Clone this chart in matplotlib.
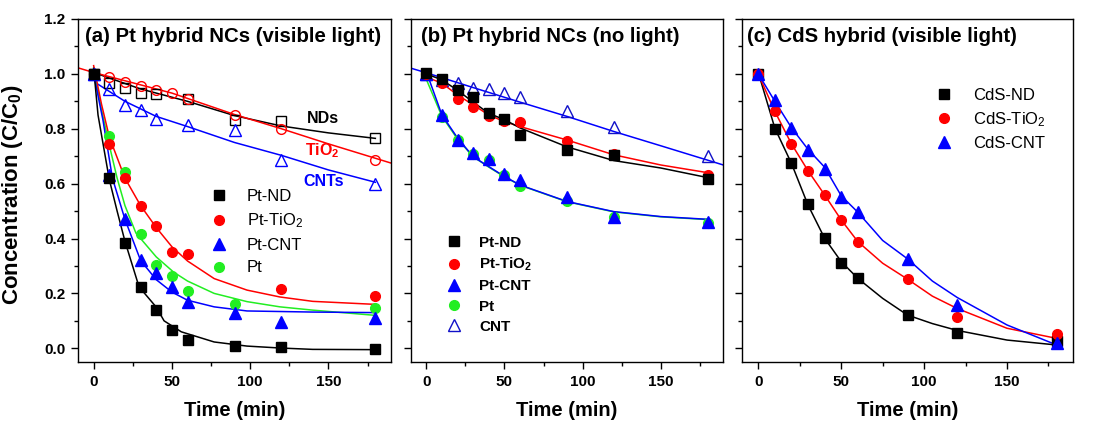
import matplotlib
matplotlib.use('Agg')
import matplotlib.pyplot as plt
from matplotlib.ticker import MultipleLocator, FormatStrFormatter

plt.rcParams['font.family'] = ['Liberation Sans', 'DejaVu Sans']
plt.rcParams['mathtext.fontset'] = 'custom'
plt.rcParams['mathtext.rm'] = 'Liberation Sans'
plt.rcParams['mathtext.bf'] = 'Liberation Sans:bold'
plt.rcParams['mathtext.default'] = 'regular'

# ---------------- data ----------------
t_full = [0, 10, 20, 30, 40, 50, 60, 90, 120, 180]

# Panel (a) measured points
a_ptnd = [1.0, 0.62, 0.385, 0.225, 0.14, 0.065, 0.03, 0.01, 0.005, -0.003]
a_pttio2_t = [0, 10, 20, 30, 40, 50, 60, 120, 180]
a_pttio2 = [1.0, 0.745, 0.62, 0.52, 0.445, 0.35, 0.345, 0.215, 0.19]
a_ptcnt = [1.0, 0.63, 0.47, 0.32, 0.275, 0.225, 0.17, 0.13, 0.095, 0.11]
a_pt_t = [0, 10, 20, 30, 40, 50, 60, 90, 180]
a_pt = [1.0, 0.772, 0.642, 0.417, 0.305, 0.263, 0.21, 0.16, 0.148]
a_nds_t = [0, 10, 20, 30, 40, 60, 90, 120, 180]
a_nds = [1.0, 0.965, 0.948, 0.932, 0.925, 0.908, 0.832, 0.83, 0.765]
a_tio2 = [1.0, 0.99, 0.972, 0.957, 0.942, 0.932, 0.91, 0.85, 0.8, 0.686]
a_cnts_t = [0, 10, 20, 30, 40, 60, 90, 120, 180]
a_cnts = [1.0, 0.945, 0.885, 0.87, 0.835, 0.815, 0.797, 0.685, 0.6]

# Panel (a) fitted curves
fa_ptnd_t = [0, 2.8, 10, 15, 20, 29, 40, 45, 56, 77, 98, 119, 140, 180]
fa_ptnd = [1.02, 0.85, 0.615, 0.5, 0.39, 0.224, 0.15, 0.1, 0.06, 0.023, 0.008, 0.001, -0.004, -0.005]
fa_pttio2_t = [0, 5, 10, 20, 30, 40, 50, 60, 77, 98, 119, 140, 180]
fa_pttio2 = [1.03, 0.89, 0.77, 0.62, 0.52, 0.44, 0.37, 0.318, 0.254, 0.212, 0.187, 0.171, 0.16]
fa_ptcnt_t = [0, 6, 12, 20, 30, 40, 50, 60, 77, 98, 140, 180]
fa_ptcnt = [1.0, 0.83, 0.62, 0.47, 0.32, 0.25, 0.205, 0.175, 0.151, 0.136, 0.132, 0.13]
fa_pt_t = [0, 5, 10, 15, 20, 27, 40, 51, 60, 77, 98, 119, 140, 180]
fa_pt = [1.02, 0.87, 0.74, 0.62, 0.52, 0.42, 0.333, 0.278, 0.245, 0.2, 0.17, 0.151, 0.139, 0.12]
fa_nds_t = [0, 30, 60, 90, 120, 150, 180]
fa_nds = [1.005, 0.945, 0.9, 0.848, 0.81, 0.785, 0.765]
fa_tio2_t = [-10, 0, 50, 90, 120, 150, 190]
fa_tio2 = [1.022, 1.005, 0.93, 0.852, 0.8, 0.745, 0.675]
fa_cnts_t = [2, 20, 40, 60, 90, 120, 150, 180]
fa_cnts = [0.965, 0.9, 0.845, 0.808, 0.75, 0.703, 0.65, 0.605]

# Panel (b) measured points
b_ptnd = [1.005, 0.98, 0.942, 0.914, 0.857, 0.836, 0.778, 0.723, 0.705, 0.616]
b_pttio2 = [1.0, 0.966, 0.908, 0.881, 0.845, 0.83, 0.823, 0.757, 0.708, 0.632]
b_ptcnt = [1.0, 0.85, 0.76, 0.713, 0.689, 0.634, 0.614, 0.553, 0.478, 0.462]
b_pt = [1.0, 0.842, 0.76, 0.708, 0.686, 0.632, 0.592, 0.538, 0.478, 0.458]
b_cnt = [1.0, 0.978, 0.966, 0.948, 0.944, 0.932, 0.917, 0.863, 0.808, 0.701]

# Panel (b) fitted curves
fb_cnt_t = [-10, 0, 30, 60, 90, 120, 150, 190]
fb_cnt = [1.021, 1.004, 0.95, 0.897, 0.845, 0.79, 0.738, 0.668]
fb_ptnd_t = [0, 10, 20, 30, 40, 50, 60, 90, 120, 150, 180]
fb_ptnd = [1.0, 0.978, 0.94, 0.897, 0.856, 0.833, 0.803, 0.734, 0.684, 0.657, 0.622]
fb_pttio2_t = [2, 10, 20, 30, 40, 50, 60, 90, 120, 150, 180]
fb_pttio2 = [0.984, 0.966, 0.923, 0.887, 0.85, 0.826, 0.808, 0.759, 0.705, 0.668, 0.64]
fb_ptcnt_t = [0, 10, 20, 30, 40, 50, 60, 90, 120, 150, 180]
fb_ptcnt = [1.008, 0.85, 0.766, 0.698, 0.662, 0.626, 0.595, 0.535, 0.498, 0.48, 0.47]
fb_pt = [0.98, 0.845, 0.762, 0.698, 0.66, 0.625, 0.594, 0.534, 0.497, 0.479, 0.469]

# Panel (c) measured points
c_nd = [1.0, 0.8, 0.677, 0.525, 0.401, 0.31, 0.255, 0.122, 0.057, 0.025]
c_tio2 = [1.0, 0.863, 0.745, 0.646, 0.559, 0.468, 0.389, 0.252, 0.115, 0.052]
c_cnt = [1.0, 0.905, 0.804, 0.723, 0.652, 0.553, 0.496, 0.326, 0.158, 0.02]

# Panel (c) fitted curves
fc_t = [0, 10, 20, 30, 40, 50, 60, 75, 90, 105, 120, 150, 180]
fc_nd = [1.005, 0.802, 0.674, 0.522, 0.401, 0.316, 0.255, 0.182, 0.121, 0.09, 0.065, 0.03, 0.012]
fc_tio2 = [1.0, 0.863, 0.745, 0.647, 0.559, 0.468, 0.389, 0.31, 0.252, 0.19, 0.145, 0.073, 0.036]
fc_cnt = [1.0, 0.9, 0.804, 0.725, 0.66, 0.556, 0.496, 0.393, 0.326, 0.245, 0.185, 0.085, 0.012]

titles = ['(a) Pt hybrid NCs (visible light)', '(b) Pt hybrid NCs (no light)',
          '(c) CdS hybrid (visible light)']

# ---------------- styling ----------------
BLACK = '#000000'
RED = '#ff0000'
BLUE = '#0000ff'
NAVY = '#1010c8'
GREEN = '#22ee22'
LW = 1.1
MS_SQ = 6.5
MS_CI = 7.0
MS_TR = 8.0

fig = plt.figure(figsize=(10.97, 4.32), dpi=100)
axA = fig.add_axes([78 / 1097, 70 / 432, 313 / 1097, 343 / 432])
axB = fig.add_axes([410.7 / 1097, 70 / 432, 312.6 / 1097, 343 / 432])
axC = fig.add_axes([741.7 / 1097, 70 / 432, 331.6 / 1097, 343 / 432])

for i, ax in enumerate([axA, axB, axC]):
    ax.set_xlim(-10, 190)
    ax.set_ylim(-0.05, 1.2)
    ax.xaxis.set_major_locator(MultipleLocator(50))
    ax.xaxis.set_minor_locator(MultipleLocator(25))
    ax.yaxis.set_major_locator(MultipleLocator(0.2))
    ax.yaxis.set_minor_locator(MultipleLocator(0.1))
    ax.yaxis.set_major_formatter(FormatStrFormatter('%.1f'))
    ax.tick_params(which='major', direction='out', length=5, width=1, labelsize=11, pad=4)
    ax.tick_params(which='minor', direction='out', length=3, width=1)
    ax.tick_params(top=False, right=False)
    for lab in ax.get_xticklabels() + ax.get_yticklabels():
        lab.set_fontweight('bold')
    if i > 0:
        ax.tick_params(labelleft=False)
    for sp in ax.spines.values():
        sp.set_linewidth(1.0)
    ax.set_xlabel('Time (min)', fontsize=14.5, fontweight='bold')
    ax.xaxis.set_label_coords(0.5, -0.114)
    ax.text(0.022 if i == 0 else (0.033 if i == 1 else 0.016), 0.95, titles[i],
            transform=ax.transAxes, fontsize=14.7, fontweight='bold', ha='left', va='center')

axA.set_ylabel('Concentration (C/C$_0$)', fontsize=16, fontweight='bold')
axA.yaxis.set_label_coords(-0.168, 0.488)

# ---------------- panel (a) ----------------
ax = axA
ax.plot(fa_nds_t, fa_nds, color=BLACK, lw=LW, zorder=2)
ax.plot(fa_tio2_t, fa_tio2, color=RED, lw=LW, zorder=2)
ax.plot(fa_cnts_t, fa_cnts, color=BLUE, lw=LW, zorder=2)
ax.plot(fa_pt_t, fa_pt, color=GREEN, lw=LW, zorder=2)
ax.plot(fa_pttio2_t, fa_pttio2, color=RED, lw=LW, zorder=2)
ax.plot(fa_ptcnt_t, fa_ptcnt, color=BLUE, lw=LW, zorder=2)
ax.plot(fa_ptnd_t, fa_ptnd, color=BLACK, lw=LW, zorder=2)

ax.plot(a_nds_t, a_nds, 's', ms=MS_SQ, mfc='none', mec=BLACK, mew=1, zorder=3)
ax.plot(t_full, a_tio2, 'o', ms=MS_CI, mfc='none', mec=RED, mew=1, zorder=3)
ax.plot(a_cnts_t, a_cnts, '^', ms=MS_TR, mfc='none', mec=BLUE, mew=1, zorder=3)
hpt, = ax.plot(a_pt_t, a_pt, 'o', ms=MS_CI, color=GREEN, mec=GREEN, label='Pt', zorder=4)
hcnt, = ax.plot(t_full, a_ptcnt, '^', ms=MS_TR, color=BLUE, label='Pt-CNT', zorder=4)
htio2, = ax.plot(a_pttio2_t, a_pttio2, 'o', ms=MS_CI, color=RED, label='Pt-TiO$_2$', zorder=4)
hnd, = ax.plot(t_full, a_ptnd, 's', ms=MS_SQ, color=BLACK, label='Pt-ND', zorder=5)
ax.legend(handles=[hnd, htio2, hcnt, hpt], loc='upper left', bbox_to_anchor=(0.424, 0.505),
          frameon=False, fontsize=12, handlelength=1.0, handletextpad=1.15,
          labelspacing=0.46, borderpad=0, borderaxespad=0, numpoints=1)

ax.text(136.5, 0.839, 'NDs', color=BLACK, fontsize=11.5, fontweight='bold', ha='left', va='center')
ax.text(134.8, 0.72, 'TiO$_2$', color=RED, fontsize=11.5, fontweight='bold', ha='left', va='center')
ax.text(133.8, 0.607, 'CNTs', color=BLUE, fontsize=11.5, fontweight='bold', ha='left', va='center')

# ---------------- panel (b) ----------------
ax = axB
ax.plot(fb_cnt_t, fb_cnt, color=BLUE, lw=LW, zorder=2)
ax.plot(fb_ptcnt_t, fb_pt, color=GREEN, lw=LW, zorder=2)
ax.plot(fb_ptcnt_t, fb_ptcnt, color=BLUE, lw=LW, zorder=2)
ax.plot(fb_pttio2_t, fb_pttio2, color=RED, lw=LW, zorder=2)
ax.plot(fb_ptnd_t, fb_ptnd, color=BLACK, lw=LW, zorder=2)

hbcnt0, = ax.plot(t_full, b_cnt, '^', ms=MS_TR, mfc='none', mec=NAVY, mew=1, label='CNT', zorder=3)
hbpt, = ax.plot(t_full, b_pt, 'o', ms=MS_CI, color=GREEN, label='Pt', zorder=4)
hbcnt, = ax.plot(t_full, b_ptcnt, '^', ms=MS_TR, color=BLUE, label='Pt-CNT', zorder=4)
hbtio2, = ax.plot(t_full, b_pttio2, 'o', ms=MS_CI, color=RED, label='Pt-TiO$_2$', zorder=4)
hbnd, = ax.plot(t_full, b_ptnd, 's', ms=MS_SQ, color=BLACK, label='Pt-ND', zorder=5)
ax.legend(handles=[hbnd, hbtio2, hbcnt, hbpt, hbcnt0], loc='upper left',
          bbox_to_anchor=(0.114, 0.368), frameon=False,
          prop={'size': 11, 'weight': 'bold'}, handlelength=1.0, handletextpad=1.15,
          labelspacing=0.4, borderpad=0, borderaxespad=0, numpoints=1)

# ---------------- panel (c) ----------------
ax = axC
ax.plot(fc_t, fc_nd, color=BLACK, lw=LW, zorder=2)
ax.plot(fc_t, fc_tio2, color=RED, lw=LW, zorder=2)
ax.plot(fc_t, fc_cnt, color=BLUE, lw=LW, zorder=2)
hcnd, = ax.plot(t_full, c_nd, 's', ms=MS_SQ, color=BLACK, label='CdS-ND', zorder=3)
hctio2, = ax.plot(t_full, c_tio2, 'o', ms=MS_CI, color=RED, label='CdS-TiO$_2$', zorder=4)
hccnt, = ax.plot(t_full, c_cnt, '^', ms=MS_TR, color=BLUE, label='CdS-CNT', zorder=5)
ax.legend(handles=[hcnd, hctio2, hccnt], loc='upper left', bbox_to_anchor=(0.585, 0.798),
          frameon=False, fontsize=12, handlelength=1.0, handletextpad=1.25,
          labelspacing=0.42, borderpad=0, borderaxespad=0, numpoints=1)

fig.savefig('out.png', dpi=100)
